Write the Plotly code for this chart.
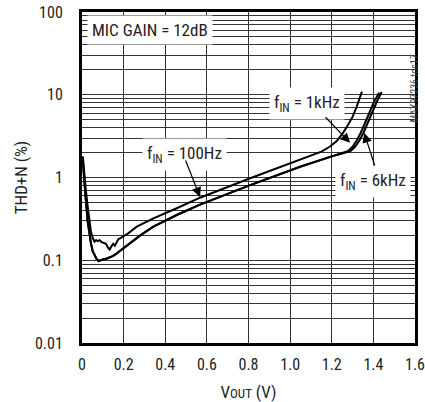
import plotly.graph_objects as go

# ---- data ----
x_100hz = [0.004, 0.01, 0.018, 0.027, 0.035, 0.043, 0.052, 0.06, 0.068, 0.076, 0.085, 0.095,
           0.105, 0.115, 0.125, 0.133, 0.142, 0.15, 0.158, 0.166, 0.175, 0.185, 0.199, 0.22,
           0.263, 0.343, 0.455, 0.567, 0.808, 1.048, 1.15, 1.19, 1.224, 1.25, 1.273, 1.3, 1.32, 1.345]
y_100hz = [1.8, 1.1, 0.72, 0.45, 0.31, 0.22, 0.185, 0.168, 0.175, 0.17, 0.175, 0.165,
           0.162, 0.158, 0.142, 0.135, 0.148, 0.158, 0.15, 0.165, 0.18, 0.185, 0.195, 0.21,
           0.255, 0.321, 0.425, 0.57, 0.98, 1.63, 2.05, 2.35, 2.75, 3.35, 4.1, 5.4, 7.2, 10.9]

x_1khz = [0.004, 0.01, 0.018, 0.027, 0.035, 0.043, 0.051, 0.06, 0.07, 0.08, 0.09, 0.1, 0.12,
          0.15, 0.167, 0.2, 0.231, 0.28, 0.343, 0.455, 0.567, 0.808, 1.048, 1.15, 1.2, 1.25,
          1.28, 1.3, 1.32, 1.34, 1.36, 1.385, 1.405, 1.428]
y_1khz = [1.6, 0.95, 0.55, 0.3, 0.21, 0.16, 0.13, 0.115, 0.104, 0.098, 0.099, 0.102, 0.105,
          0.113, 0.121, 0.14, 0.16, 0.2, 0.255, 0.352, 0.47, 0.81, 1.35, 1.65, 1.8, 1.97,
          2.1, 2.35, 2.8, 3.5, 4.6, 6.6, 8.4, 10.6]

x_6khz = [0.004, 0.01, 0.018, 0.027, 0.035, 0.043, 0.051, 0.06, 0.07, 0.08, 0.09, 0.1, 0.12,
          0.15, 0.167, 0.2, 0.231, 0.28, 0.343, 0.455, 0.567, 0.808, 1.048, 1.15, 1.2, 1.25,
          1.29, 1.312, 1.333, 1.353, 1.373, 1.398, 1.418, 1.44]
y_6khz = [1.6, 0.95, 0.55, 0.3, 0.21, 0.16, 0.13, 0.115, 0.104, 0.098, 0.099, 0.102, 0.105,
          0.113, 0.121, 0.14, 0.16, 0.2, 0.255, 0.352, 0.47, 0.81, 1.35, 1.65, 1.8, 1.95,
          2.08, 2.35, 2.8, 3.5, 4.6, 6.6, 8.4, 10.8]

x_ticks = [0, 0.2, 0.4, 0.6, 0.8, 1.0, 1.2, 1.4, 1.6]
x_ticktext = ["0", "0.2", "0.4", "0.6", "0.8", "1.0", "1.2", "1.4", "1.6"]
y_ticks = [0.01, 0.1, 1, 10, 100]
y_ticktext = ["0.01", "0.1", "1", "10", "100"]
y_minor = [k * 10 ** e for e in range(-2, 2) for k in range(2, 10)]

FONT = "Roboto Condensed, DejaVu Sans Condensed, Liberation Sans Narrow, Arial Narrow, sans-serif"
LINE = dict(color="black", width=2)

fig = go.Figure()
fig.add_trace(go.Scatter(x=x_100hz, y=y_100hz, mode="lines", line=LINE, name="100Hz"))
fig.add_trace(go.Scatter(x=x_1khz, y=y_1khz, mode="lines", line=LINE, name="1kHz"))
fig.add_trace(go.Scatter(x=x_6khz, y=y_6khz, mode="lines", line=LINE, name="6kHz"))

GRID = "#333333"
fig.update_layout(
    width=425, height=402,
    margin=dict(l=82, r=10, t=12, b=59, autoexpand=False),
    paper_bgcolor="white", plot_bgcolor="white",
    showlegend=False,
    font=dict(family=FONT, size=16, color="#222"),
    xaxis=dict(
        range=[0, 1.6], tickvals=x_ticks, ticktext=x_ticktext, automargin=False,
        showgrid=True, gridcolor=GRID, gridwidth=1, zeroline=False,
        showline=True, linecolor="black", linewidth=3, mirror=True,
        ticks="", ticklabelstandoff=5, ticklabeloverflow="allow",
        tickfont=dict(family=FONT, size=16),
        title=dict(text='V<span style="font-size:13px">OUT</span> (V)', standoff=15,
                   font=dict(family=FONT, size=17)),
    ),
    yaxis=dict(
        type="log", range=[-2, 2], tickvals=y_ticks, ticktext=y_ticktext, automargin=False,
        showgrid=True, gridcolor=GRID, gridwidth=1, zeroline=False,
        showline=True, linecolor="black", linewidth=3, mirror=True,
        ticks="", ticklabelstandoff=13,
        tickfont=dict(family=FONT, size=16),
        minor=dict(tickvals=y_minor, showgrid=True, gridcolor=GRID, gridwidth=1, ticks=""),
        title=dict(text="THD+N (%)", standoff=3, font=dict(family=FONT, size=17)),
    ),
)

ann_font = dict(family=FONT, size=17, color="#222")
# text labels
fig.add_annotation(x=0.024, y=1.782, xref="x", yref="y", text="MIC GAIN = 12dB",
                   showarrow=False, xanchor="left", yanchor="middle",
                   bgcolor="white", borderpad=4, font=ann_font)
fig.add_annotation(x=0.493, y=0.272, xref="x", yref="y", text="f<sub>IN</sub> = 100Hz",
                   showarrow=False, bgcolor="white", borderpad=4, font=ann_font)
fig.add_annotation(x=1.079, y=0.900, xref="x", yref="y", text="f<sub>IN</sub> = 1kHz",
                   showarrow=False, bgcolor="white", borderpad=4, font=ann_font)
fig.add_annotation(x=1.397, y=-0.054, xref="x", yref="y", text="f<sub>IN</sub> = 6kHz",
                   showarrow=False, bgcolor="white", borderpad=4, font=ann_font)

# arrows
arrow = dict(showarrow=True, text="", arrowhead=2, arrowsize=1.6, arrowwidth=1.2,
             arrowcolor="black", standoff=0, xref="x", yref="y")
fig.add_annotation(x=0.567, y=-0.236, ax=-15, ay=-38, **arrow)
fig.add_annotation(x=1.288, y=0.42, ax=-26, ay=-27, **arrow)
fig.add_annotation(x=1.356, y=0.538, ax=11, ay=34, **arrow)

# side id text
fig.add_annotation(x=1.021, y=0.879, xref="paper", yref="paper", text="MAX97236 toc17",
                   showarrow=False, textangle=-90, font=dict(family=FONT, size=10, color="#444"))

fig.write_html("out.html", config={"displayModeBar": False},
               post_script="document.body.style.margin='0';document.body.style.overflow='hidden';")
